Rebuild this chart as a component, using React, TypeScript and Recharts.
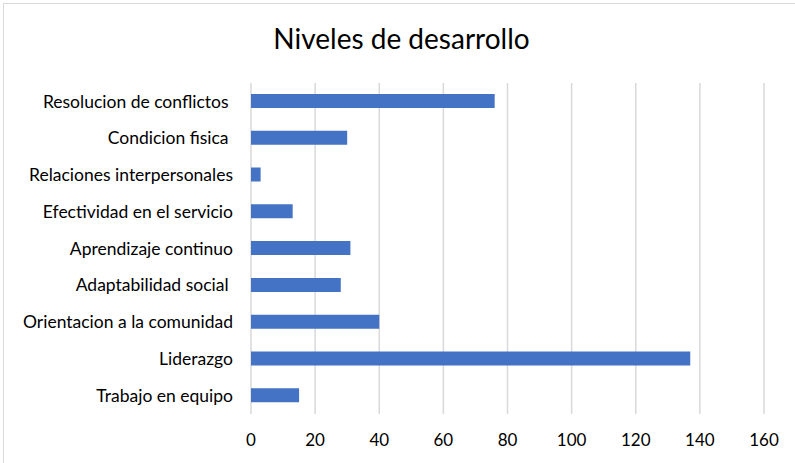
import { BarChart, Bar, XAxis, YAxis, CartesianGrid } from 'recharts';

const categories = [
  'Resolucion de conflictos\u00a0',
  'Condicion fisica\u00a0',
  'Relaciones interpersonales',
  'Efectividad en el servicio',
  'Aprendizaje continuo',
  'Adaptabilidad social\u00a0',
  'Orientacion a la comunidad',
  'Liderazgo',
  'Trabajo en equipo',
];
const values = [76, 30, 3, 13, 31, 28, 40, 137, 15];
const xTicks = [0, 20, 40, 60, 80, 100, 120, 140, 160];

const data = categories.map((name, i) => ({ name, value: values[i] }));

const FONT = 'Lato, "Open Sans", sans-serif';

export default function App() {
  return (
    <div
      style={{
        position: 'absolute',
        left: 0,
        top: 0,
        width: 795,
        height: 463,
        background: '#fff',
        fontFamily: FONT,
      }}
    >
      <div
        style={{
          position: 'absolute',
          left: 3,
          top: 3,
          width: 800,
          height: 470,
          border: '1px solid #d9d9d9',
        }}
      />
      <div
        style={{
          position: 'absolute',
          left: 0,
          top: 21,
          width: 803,
          textAlign: 'center',
          fontSize: 28,
          color: '#000',
        }}
      >
        Niveles de desarrollo
      </div>
      <div style={{ position: 'absolute', left: 0, top: 0 }}>
        <BarChart
          width={795}
          height={463}
          data={data}
          layout="vertical"
          margin={{ top: 83, right: 31, bottom: 19, left: 0 }}
        >
          <CartesianGrid horizontal={false} stroke="#d9d9d9" strokeWidth={1.5} />
          <XAxis
            type="number"
            domain={[0, 160]}
            ticks={xTicks}
            axisLine={false}
            tickLine={false}
            height={30}
            tickMargin={14}
            tick={{ fill: '#000', fontSize: 17, fontFamily: FONT }}
          />
          <YAxis
            type="category"
            dataKey="name"
            width={251}
            axisLine={false}
            tickLine={false}
            tickMargin={12}
            tick={{ fill: '#000', fontSize: 17.5, fontFamily: FONT }}
          />
          <Bar dataKey="value" fill="#4472c4" barSize={14} isAnimationActive={false} />
        </BarChart>
      </div>
    </div>
  );
}
